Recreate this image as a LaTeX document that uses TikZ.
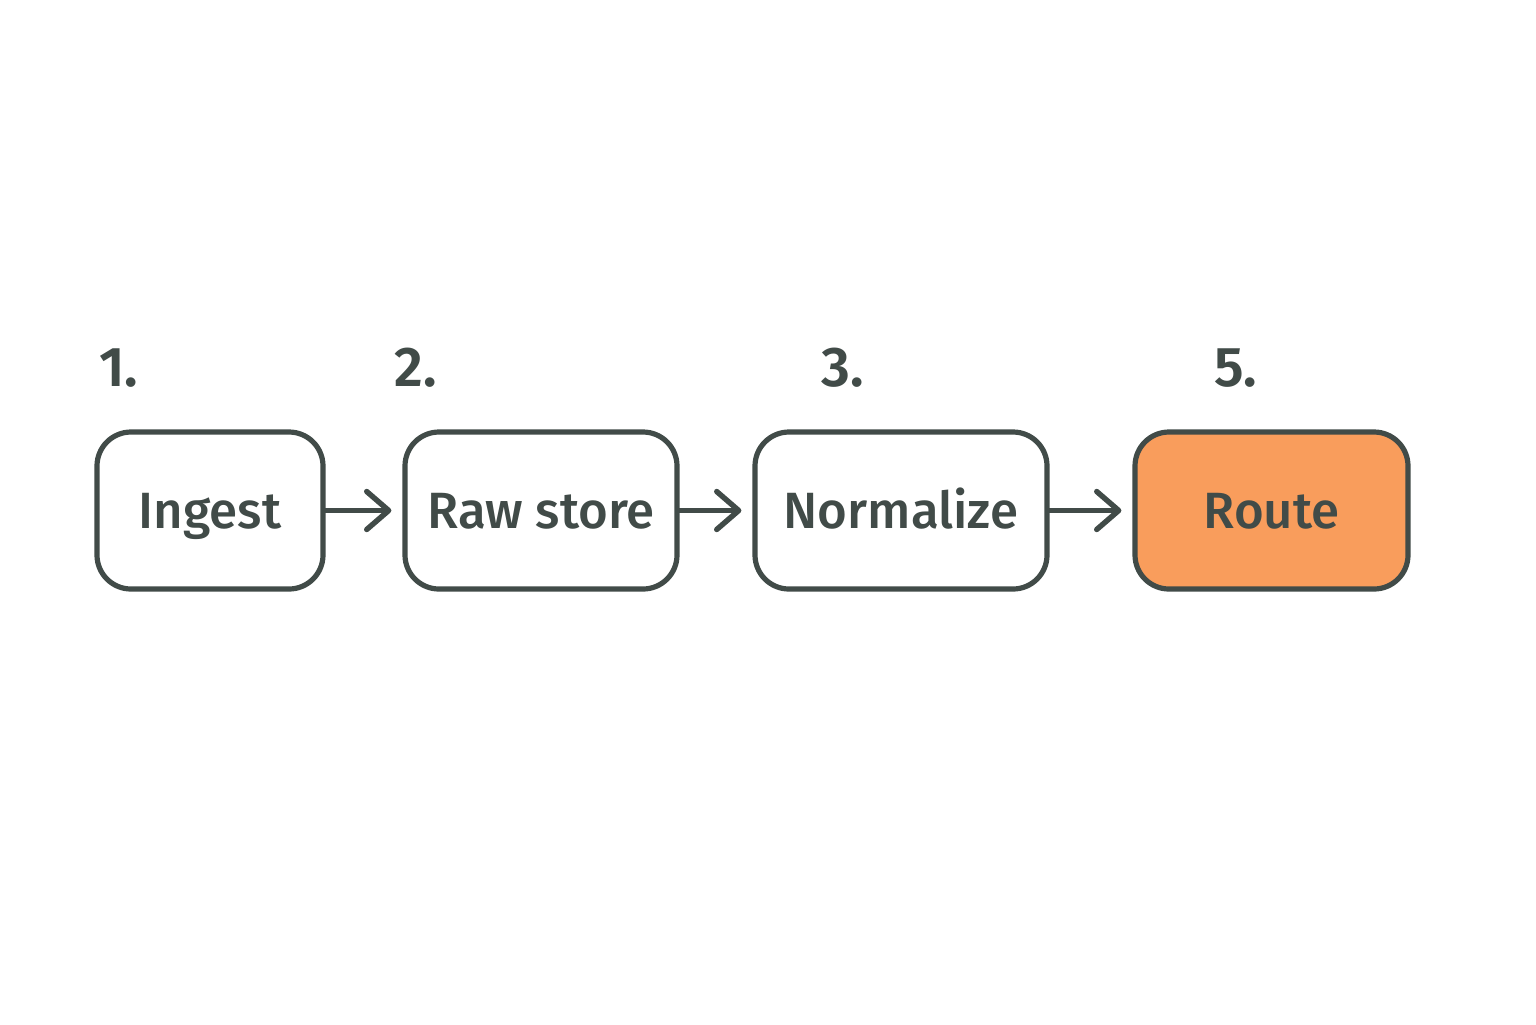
\documentclass[tikz,border=0pt]{standalone}
\usepackage{fontspec}
\setmainfont{Fira Sans}[UprightFont={* Medium},BoldFont={* SemiBold}]
\usetikzlibrary{arrows.meta}
\definecolor{ink}{HTML}{414B48}
\definecolor{hot}{HTML}{F99D5C}
\tikzset{
  stage/.style={draw=ink, line width=2.6pt, rounded corners=17pt, fill=white,
    minimum height=78.5pt, inner sep=0pt, text=ink, text height=17.6pt, text depth=0pt,
    font=\fontsize{25.5}{30}\selectfont},
  num/.style={text=ink, anchor=base west, inner sep=0pt, font=\fontsize{28}{32}\selectfont\bfseries},
  arr/.style={draw=ink, line width=2.7pt, line cap=round,
    -{Straight Barb[length=11pt,width=19pt,line cap=round,line join=round]}, shorten >=5.5pt}
}
\begin{document}
\begin{tikzpicture}[x=0.5pt,y=-0.5pt]
\useasboundingbox (0,0) rectangle (1536,1024);
\fill[white] (0,0) rectangle (1536,1024);
\node[stage, minimum width=113pt] (a) at (210,510.5) {Ingest};
\node[stage, minimum width=136pt] (b) at (541,510.5) {Raw store};
\node[stage, minimum width=146pt] (c) at (901,510.5) {Normalize};
\node[stage, minimum width=136.5pt, fill=hot] (d) at (1271.5,510.5) {Route};
\node[num] (n1) at (99,386) {1.};
\node[num] (n2) at (394,386) {2.};
\node[num] (n3) at (821,386) {3.};
\node[num] (n5) at (1214,386) {5.};
\draw[arr] (a.east) -- (b.west);
\draw[arr] (b.east) -- (c.west);
\draw[arr] (c.east) -- (d.west);
\end{tikzpicture}
\end{document}
